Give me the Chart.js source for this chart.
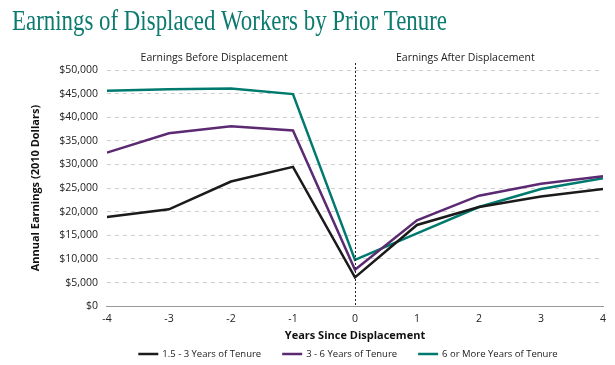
<!DOCTYPE html>
<html><head><meta charset="utf-8">
<script src="https://cdn.jsdelivr.net/npm/chart.js@4/dist/chart.umd.min.js"></script>
<style>html,body{margin:0;padding:0;background:#fff}#wrap{width:615px;height:365px}</style>
</head><body><div id="wrap"><canvas id="c" width="615" height="365"></canvas></div>
<script>
const years = [-4, -3, -2, -1, 0, 1, 2, 3, 4];
const tenureShort = [18900, 20500, 26400, 29500, 6100, 17200, 21000, 23200, 24800];
const tenureMid = [32500, 36600, 38100, 37200, 7700, 18200, 23400, 25900, 27500];
const tenureLong = [45600, 45900, 46100, 44900, 9800, 15400, 21000, 24800, 27100];
const seriesNames = ['1.5 - 3 Years of Tenure', '3 - 6 Years of Tenure', '6 or More Years of Tenure'];
const sectionLabels = ['Earnings Before Displacement', 'Earnings After Displacement'];
const yTicks = [0, 5000, 10000, 15000, 20000, 25000, 30000, 35000, 40000, 45000, 50000];
const chartTitle = 'Earnings of Displaced Workers by Prior Tenure';

const font = '"Open Sans", "Noto Sans", sans-serif';

const mk = (vals) => years.map((x, i) => ({x, y: vals[i]}));

const sectionPlugin = {
  id: 'sections',
  afterDraw(chart) {
    const {ctx, chartArea, scales} = chart;
    const x0 = scales.x.getPixelForValue(0);
    ctx.save();
    ctx.strokeStyle = '#222';
    ctx.lineWidth = 1;
    ctx.setLineDash([2, 2]);
    ctx.beginPath();
    ctx.moveTo(Math.round(x0) + 0.5, chartArea.top - 7);
    ctx.lineTo(Math.round(x0) + 0.5, chartArea.bottom);
    ctx.stroke();
    ctx.setLineDash([]);
    ctx.fillStyle = '#222';
    ctx.font = '10.5px ' + font;
    ctx.textAlign = 'center';
    ctx.textBaseline = 'middle';
    ctx.fillText(sectionLabels[0], scales.x.getPixelForValue(-2.27), chartArea.top - 12);
    ctx.fillText(sectionLabels[1], scales.x.getPixelForValue(1.78), chartArea.top - 12);

    // legend
    ctx.font = '9.5px ' + font;
    ctx.textAlign = 'left';
    const sample = 20, gapText = 4, gapItem = 21;
    const widths = chart.data.datasets.map(d => sample + gapText + ctx.measureText(d.label).width);
    const total = widths.reduce((a, b) => a + b, 0) + gapItem * (widths.length - 1);
    let lx = (chartArea.left + chartArea.right) / 2 - 7 - total / 2;
    const ly = 354;
    chart.data.datasets.forEach((d, i) => {
      ctx.strokeStyle = d.borderColor;
      ctx.lineWidth = 2.5;
      ctx.beginPath();
      ctx.moveTo(lx, ly);
      ctx.lineTo(lx + sample, ly);
      ctx.stroke();
      ctx.fillStyle = '#222';
      ctx.fillText(d.label, lx + sample + gapText, ly + 0.5);
      lx += widths[i] + gapItem;
    });

    // title, horizontally condensed serif
    ctx.fillStyle = '#0d7a6f';
    ctx.font = '29px "Liberation Serif", "DejaVu Serif", serif';
    ctx.textBaseline = 'alphabetic';
    const w = ctx.measureText(chartTitle).width;
    ctx.translate(12, 30);
    ctx.scale(435 / w, 1);
    ctx.fillText(chartTitle, 0, 0);
    ctx.restore();
  }
};

new Chart(document.getElementById('c'), {
  type: 'line',
  data: {
    datasets: [
      {label: seriesNames[0], data: mk(tenureShort), borderColor: '#1b1b1b', backgroundColor: '#1b1b1b'},
      {label: seriesNames[1], data: mk(tenureMid), borderColor: '#5c2a72', backgroundColor: '#5c2a72'},
      {label: seriesNames[2], data: mk(tenureLong), borderColor: '#007a6f', backgroundColor: '#007a6f'}
    ]
  },
  options: {
    responsive: false,
    animation: false,
    devicePixelRatio: 1,
    elements: {
      line: {borderWidth: 2.5, tension: 0, borderJoinStyle: 'miter'},
      point: {radius: 0}
    },
    layout: {padding: {left: 25, right: 12, top: 70, bottom: 23}},
    scales: {
      x: {
        type: 'linear', min: -4, max: 4,
        grid: {display: false, drawTicks: false},
        border: {display: true, color: '#999', width: 1},
        ticks: {stepSize: 1, font: {family: font, size: 10.5}, color: '#222', padding: 7},
        title: {display: true, text: 'Years Since Displacement', font: {family: font, size: 11, weight: 'bold'}, color: '#111', padding: {top: -4, bottom: 0}}
      },
      y: {
        min: 0, max: 50000,
        afterBuildTicks(axis) { axis.ticks = yTicks.map(v => ({value: v})); },
        grid: {color: '#cfcfcf', lineWidth: 1, drawTicks: false},
        border: {display: false, dash: [4, 4]},
        ticks: {font: {family: font, size: 10.5}, color: '#222', padding: 9,
          callback: v => '$' + Number(v).toLocaleString('en-US')},
        title: {display: true, text: 'Annual Earnings (2010 Dollars)', font: {family: font, size: 11, weight: 'bold'}, color: '#111', padding: {bottom: 8}}
      }
    },
    plugins: {
      title: {display: false},
      legend: {display: false},
      tooltip: {enabled: false}
    }
  },
  plugins: [sectionPlugin]
});
</script></body></html>
